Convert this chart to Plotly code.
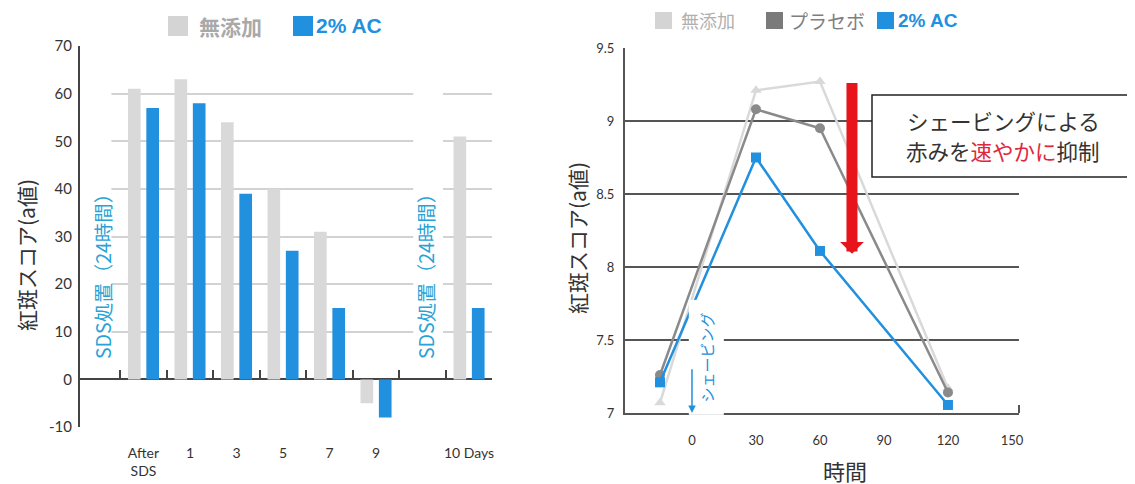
import plotly.graph_objects as go

# ---------------- data ----------------
# left chart (bars)
days = ["After<br>SDS", "1", "3", "5", "7", "9", "10 Days"]
no_additive = [61, 63, 54, 40, 31, -5, 51]
ac_2pct = [57, 58, 39, 27, 15, -8, 15]
left_yticks = [-10, 0, 10, 20, 30, 40, 50, 60, 70]
left_series_names = ["無添加", "2% AC"]

# right chart (lines)
minutes = [-15, 30, 60, 120]
r_no_additive = [7.07, 9.21, 9.27, 7.17]
r_placebo = [7.26, 9.08, 8.95, 7.14]
r_ac = [7.21, 8.75, 8.11, 7.055]
right_xticks = [0, 30, 60, 90, 120, 150]
right_yticks = [7, 7.5, 8, 8.5, 9, 9.5]
right_series_names = ["無添加", "プラセボ", "2% AC"]

# ---------------- layout helpers ----------------
W, H = 1135, 484
OFF = 8  # page body margin
def px(x):
    return (x - OFF) / W
def py(y):
    return 1 - (y - OFF) / H

LIGHT = "#d9d9d9"
GRAYD = "#8a8a8a"
BLUE = "#2190de"
CYAN = "#29a3d6"
DARK = "#444444"
JP = "Noto Sans CJK JP"
LAT = "Lato, Noto Sans CJK JP"

# slot positions for categories (an empty slot after day 9)
pos = []
p = 1
for d in days:
    pos.append(p)
    p += 2 if d == "9" else 1
dividers = [i + 0.5 for i in range(0, p)]

xl_range = [-0.365, 8.5]
yl_range = [-10, 70]
xr_range = [-31.4, 153.3]
yr_range = [7, 9.5]

fig = go.Figure()

fig.add_trace(go.Bar(x=pos, y=no_additive, name=left_series_names[0],
                     marker=dict(color=LIGHT, line=dict(width=0)),
                     xaxis="x", yaxis="y", showlegend=False))
fig.add_trace(go.Bar(x=pos, y=ac_2pct, name=left_series_names[1],
                     marker=dict(color=BLUE, line=dict(width=0)),
                     xaxis="x", yaxis="y", showlegend=False))
# empty helper trace so the category-divider tick axis (x3 on y3) gets drawn
fig.add_trace(go.Scatter(x=[None], y=[None], mode="markers", xaxis="x3", yaxis="y3",
                         showlegend=False, hoverinfo="skip"))

fig.add_trace(go.Scatter(x=minutes, y=r_no_additive, name=right_series_names[0],
                         mode="lines+markers", line=dict(color=LIGHT, width=2.5),
                         marker=dict(symbol="triangle-up", size=10, color=LIGHT),
                         xaxis="x2", yaxis="y2", showlegend=False))
fig.add_trace(go.Scatter(x=minutes, y=r_placebo, name=right_series_names[1],
                         mode="lines+markers", line=dict(color=GRAYD, width=2.5),
                         marker=dict(symbol="circle", size=10, color=GRAYD),
                         xaxis="x2", yaxis="y2", showlegend=False))
fig.add_trace(go.Scatter(x=minutes, y=r_ac, name=right_series_names[2],
                         mode="lines+markers", line=dict(color=BLUE, width=2.5),
                         marker=dict(symbol="square", size=10, color=BLUE),
                         xaxis="x2", yaxis="y2", showlegend=False))

ydom_l = [py(427), py(46)]
zero_pos = ydom_l[0] + (0 - yl_range[0]) / (yl_range[1] - yl_range[0]) * (ydom_l[1] - ydom_l[0])

fig.update_layout(
    width=W, height=H,
    margin=dict(l=0, r=0, t=0, b=0, pad=0, autoexpand=False),
    paper_bgcolor="white", plot_bgcolor="rgba(0,0,0,0)",
    font=dict(family=LAT, color=DARK),
    barmode="group", bargap=0.21, bargroupgap=0.31,
    showlegend=False,
    xaxis=dict(domain=[px(80), px(492.3)], range=xl_range, anchor="y", automargin=False,
               tickmode="array", tickvals=pos, ticktext=days,
               ticks="", showgrid=False, zeroline=False, showline=False,
               ticklabelstandoff=16, tickfont=dict(size=14, color="#333333", family=LAT)),
    # divider ticks sitting on the zero line
    xaxis3=dict(domain=[px(80), px(492.3)], range=xl_range, anchor="y3", automargin=False,
                tickmode="array", tickvals=dividers, ticks="inside", ticklen=9,
                tickwidth=2, tickcolor=DARK, showticklabels=False,
                showgrid=False, zeroline=False, showline=False),
    yaxis3=dict(domain=[zero_pos, ydom_l[1]], range=[0, 1], anchor="x3", automargin=False,
                visible=False, showgrid=False, zeroline=False),
    yaxis=dict(domain=ydom_l, range=yl_range, anchor="x", automargin=False,
               tickmode="array", tickvals=left_yticks,
               ticktext=[str(v) for v in left_yticks],
               showgrid=False, zeroline=True, zerolinecolor=DARK, zerolinewidth=2,
               showline=True, linecolor=DARK, linewidth=2, ticks="",
               ticklabelstandoff=3, tickfont=dict(size=15, color="#333333", family=LAT),
               minor=dict(tickvals=[v for v in left_yticks if v not in (0, 70)],
                          showgrid=True, gridcolor="#d2d2d2", gridwidth=2, ticks="")),
    xaxis2=dict(domain=[px(625), px(1019)], range=xr_range, anchor="y2", automargin=False,
                tickmode="array", tickvals=right_xticks,
                ticktext=[str(v) for v in right_xticks],
                ticks="", showgrid=False, zeroline=False,
                showline=True, linecolor="#555555", linewidth=2,
                ticklabelstandoff=14, tickfont=dict(size=13, color="#333333", family=LAT),
                minor=dict(tickvals=[xr_range[1]], ticks="inside", ticklen=8,
                           tickwidth=2, tickcolor="#555555", showgrid=False)),
    yaxis2=dict(domain=[py(413), py(48)], range=yr_range, anchor="x2", automargin=False,
                tickmode="array", tickvals=right_yticks,
                ticktext=[f"{v:g}" for v in right_yticks],
                showgrid=True, gridcolor="#555555", gridwidth=2, zeroline=False,
                showline=True, linecolor="#555555", linewidth=2, ticks="",
                ticklabelstandoff=6, tickfont=dict(size=13, color="#333333", family=LAT)),
)

shapes = []
# white masks behind the vertical SDS notes (cover gridlines, under traces)
for x0, x1 in [(xl_range[0], 0.31), (6.8, 7.44)]:
    shapes.append(dict(type="rect", xref="x", yref="y", x0=x0, x1=x1, y0=5, y1=65,
                       fillcolor="white", line=dict(width=0), layer="between"))
# legend swatches
def swatch(x0, y0, size, color):
    shapes.append(dict(type="rect", xref="paper", yref="paper",
                       x0=px(x0), x1=px(x0 + size), y0=py(y0 + size), y1=py(y0),
                       fillcolor=color, line=dict(width=0), layer="above"))
swatch(168, 16, 20, "#d4d4d4")
swatch(293, 16, 20, BLUE)
swatch(655, 12, 17, "#d4d4d4")
swatch(766, 12, 17, "#7a7a7a")
swatch(877, 12, 17, BLUE)
# callout box frame
shapes.append(dict(type="rect", xref="paper", yref="paper",
                   x0=px(872), x1=px(1134), y0=py(177), y1=py(95),
                   fillcolor="white", line=dict(color="#222222", width=1.5), layer="above"))

ann = []
def note(x, y, text, font, **kw):
    d = dict(xref="paper", yref="paper", x=px(x), y=py(y), text=text, showarrow=False,
             xanchor="center", yanchor="middle", font=font)
    d.update(kw)
    ann.append(d)

# left legend text
note(197, 26, "<b>" + left_series_names[0] + "</b>",
     dict(family=JP, size=21, color="#a9a9a9"), xanchor="left")
note(314, 26, "<b>" + left_series_names[1] + "</b>",
     dict(family="Liberation Sans", size=21, color=BLUE), xanchor="left")
# right legend text
note(679, 20, right_series_names[0], dict(family=JP, size=18, color="#b0b0b0"), xanchor="left")
note(787, 20, right_series_names[1], dict(family=JP, size=19, color="#7f7f7f"), xanchor="left")
note(896, 20, "<b>" + right_series_names[2] + "</b>",
     dict(family="Liberation Sans", size=19, color=BLUE), xanchor="left")
# axis titles
note(26, 255, "紅斑スコア(a値)", dict(family=JP, size=21, color="#333333"), textangle=-90)
note(577, 238, "紅斑スコア(a値)", dict(family=JP, size=21, color="#333333"), textangle=-90)
note(845, 470, "時間", dict(family=JP, size=22, color="#333333"))
# SDS notes
for xc in [102, 425]:
    note(xc, 272, "SDS処置（24時間）", dict(family=JP, size=19.5, color=CYAN), textangle=-90)
# callout text (two lines)
note(1003, 120, "シェービングによる", dict(family=JP, size=21.5, color="#333333"))
note(1003, 151, "赤みを<span style='color:#e0283c'>速やかに</span>抑制",
     dict(family=JP, size=21.5, color="#333333"))

# shaving note (with white background that cuts the gridline)
ann.append(dict(xref="x2", yref="y2", x=6.5, y=7.38, textangle=-90,
                xanchor="center", yanchor="middle",
                text="シェービング", showarrow=False, bgcolor="white",
                width=112, height=32,
                font=dict(family=JP, size=15, color=BLUE)))
ann.append(dict(xref="x2", yref="y2", x=0, y=7.0, axref="x2", ayref="y2", ax=0, ay=7.31,
                text="", showarrow=True, arrowhead=2, arrowwidth=1.5, arrowsize=1,
                arrowcolor=BLUE, standoff=0))
# red arrow
ann.append(dict(xref="x2", yref="y2", x=75, y=8.09, axref="x2", ayref="y2", ax=75, ay=9.27,
                text="", showarrow=True, arrowhead=1, arrowwidth=11, arrowsize=0.36,
                arrowcolor="#e8141b", standoff=0))

fig.update_layout(shapes=shapes, annotations=ann)
fig.write_html("out.html")
